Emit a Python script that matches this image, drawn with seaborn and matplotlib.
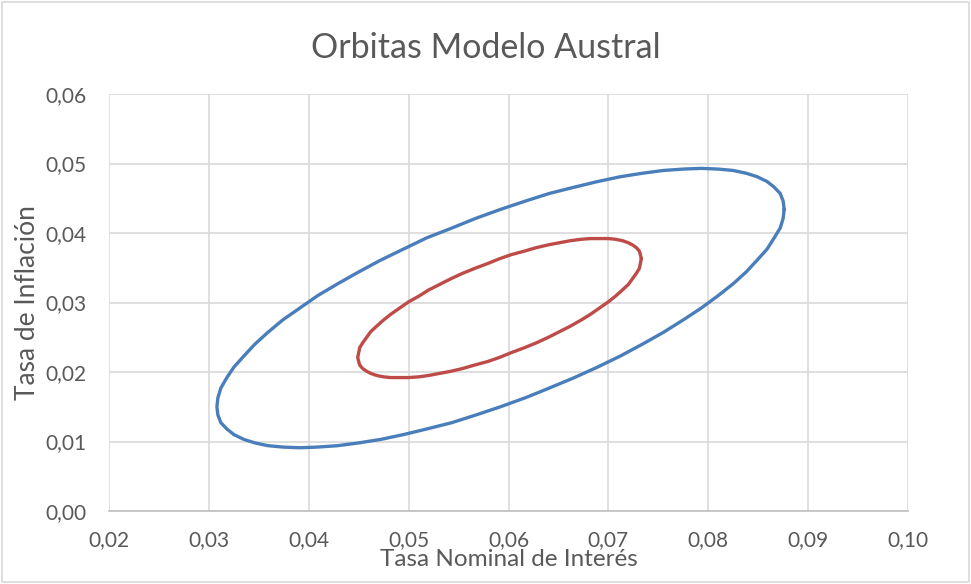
"""
Orbitas Modelo Austral: dos órbitas (tasa nominal vs inflación)
Salida: out.png
"""

import matplotlib.pyplot as plt
import pandas as pd
import seaborn as sns
from matplotlib.patches import Rectangle
from matplotlib.ticker import FuncFormatter

# órbita exterior (azul)
orbita_ext_x = [
    0.0876, 0.0875, 0.0872, 0.0866, 0.0859, 0.0849, 0.0838, 0.0825, 0.0810, 0.0793,
    0.0775, 0.0755, 0.0734, 0.0712, 0.0689, 0.0666, 0.0641, 0.0617, 0.0592,
    0.0567, 0.0543, 0.0518, 0.0495, 0.0472, 0.0450, 0.0429, 0.0409, 0.0391,
    0.0374, 0.0359, 0.0346, 0.0335, 0.0325, 0.0318, 0.0312, 0.0309, 0.0308,
    0.0309, 0.0312, 0.0318, 0.0325, 0.0335, 0.0346, 0.0359, 0.0374, 0.0391,
    0.0409, 0.0429, 0.0450, 0.0472, 0.0495, 0.0518, 0.0543, 0.0567, 0.0592,
    0.0617, 0.0641, 0.0666, 0.0689, 0.0712, 0.0734, 0.0755, 0.0775, 0.0793,
    0.0810, 0.0825, 0.0838, 0.0849, 0.0859, 0.0866, 0.0872, 0.0875, 0.0876,
]
orbita_ext_y = [
    0.0434, 0.0446, 0.0457, 0.0466, 0.0474, 0.0481, 0.0486, 0.0490, 0.0492, 0.0493,
    0.0492, 0.0490, 0.0486, 0.0481, 0.0474, 0.0466, 0.0457, 0.0446, 0.0434,
    0.0421, 0.0407, 0.0393, 0.0377, 0.0361, 0.0344, 0.0327, 0.0310, 0.0292,
    0.0275, 0.0257, 0.0240, 0.0223, 0.0207, 0.0192, 0.0177, 0.0163, 0.0150,
    0.0138, 0.0127, 0.0118, 0.0110, 0.0103, 0.0098, 0.0094, 0.0092, 0.0091,
    0.0092, 0.0094, 0.0098, 0.0103, 0.0110, 0.0118, 0.0127, 0.0138, 0.0150,
    0.0163, 0.0177, 0.0192, 0.0207, 0.0223, 0.0240, 0.0257, 0.0275, 0.0292,
    0.0310, 0.0327, 0.0344, 0.0361, 0.0377, 0.0393, 0.0407, 0.0421, 0.0434,
]

# órbita interior (roja)
orbita_int_x = [
    0.0733, 0.0732, 0.0731, 0.0728, 0.0724, 0.0720, 0.0714, 0.0707, 0.0700, 0.0691,
    0.0682, 0.0673, 0.0662, 0.0651, 0.0640, 0.0628, 0.0616, 0.0603, 0.0591,
    0.0579, 0.0566, 0.0554, 0.0542, 0.0531, 0.0520, 0.0510, 0.0500, 0.0491,
    0.0482, 0.0475, 0.0468, 0.0462, 0.0458, 0.0454, 0.0451, 0.0450, 0.0449,
    0.0450, 0.0451, 0.0454, 0.0458, 0.0462, 0.0468, 0.0475, 0.0482, 0.0491,
    0.0500, 0.0510, 0.0520, 0.0531, 0.0542, 0.0554, 0.0566, 0.0579, 0.0591,
    0.0603, 0.0616, 0.0628, 0.0640, 0.0651, 0.0662, 0.0673, 0.0682, 0.0691,
    0.0700, 0.0707, 0.0714, 0.0720, 0.0724, 0.0728, 0.0731, 0.0732, 0.0733,
]
orbita_int_y = [
    0.0363, 0.0369, 0.0374, 0.0379, 0.0383, 0.0386, 0.0389, 0.0391, 0.0392, 0.0392,
    0.0392, 0.0391, 0.0389, 0.0386, 0.0383, 0.0379, 0.0374, 0.0369, 0.0363,
    0.0356, 0.0349, 0.0342, 0.0334, 0.0326, 0.0318, 0.0309, 0.0301, 0.0292,
    0.0283, 0.0275, 0.0266, 0.0258, 0.0250, 0.0242, 0.0235, 0.0228, 0.0221,
    0.0215, 0.0210, 0.0205, 0.0201, 0.0198, 0.0195, 0.0193, 0.0192, 0.0192,
    0.0192, 0.0193, 0.0195, 0.0198, 0.0201, 0.0205, 0.0210, 0.0215, 0.0221,
    0.0228, 0.0235, 0.0242, 0.0250, 0.0258, 0.0266, 0.0275, 0.0283, 0.0292,
    0.0301, 0.0309, 0.0318, 0.0326, 0.0334, 0.0342, 0.0349, 0.0356, 0.0363,
]

x_ticks = [0.02, 0.03, 0.04, 0.05, 0.06, 0.07, 0.08, 0.09, 0.10]
y_ticks = [0.00, 0.01, 0.02, 0.03, 0.04, 0.05, 0.06]

TEXT = "#595959"
GRID = "#d9d9d9"
COLORES = {"ext": "#4a7ebb", "int": "#be4b48"}

sns.set_style("white")
plt.rcParams["font.family"] = ["Lato", "DejaVu Sans"]

df = pd.concat([
    pd.DataFrame({"x": orbita_ext_x, "y": orbita_ext_y, "serie": "ext"}),
    pd.DataFrame({"x": orbita_int_x, "y": orbita_int_y, "serie": "int"}),
], ignore_index=True)

fig = plt.figure(figsize=(9.71, 5.84), dpi=100)
ax = fig.add_axes([0.1123, 0.125, 0.8228, 0.714])

# cada órbita como trazo cerrado, en el orden de los puntos
for serie, color in COLORES.items():
    sub = df[df["serie"] == serie]
    sns.lineplot(data=sub, x="x", y="y", sort=False, estimator=None,
                 color=color, linewidth=2.4, solid_joinstyle="round", ax=ax)

ax.set_xlim(0.02, 0.10)
ax.set_ylim(0.0, 0.06)
ax.set_xticks(x_ticks)
ax.set_yticks(y_ticks)
fmt = FuncFormatter(lambda v, _: f"{v:.2f}".replace(".", ","))
ax.xaxis.set_major_formatter(fmt)
ax.yaxis.set_major_formatter(fmt)
ax.tick_params(length=0, labelsize=15, colors=TEXT)
ax.tick_params(axis="x", pad=14)
ax.tick_params(axis="y", pad=16)
ax.grid(True, color=GRID, linewidth=1.2)
ax.set_axisbelow(True)
for s in ["top", "right", "left"]:
    ax.spines[s].set_visible(False)
ax.spines["bottom"].set_color("#bfbfbf")
ax.spines["bottom"].set_linewidth(1.2)

ax.set_xlabel("Tasa Nominal de Interés", fontsize=17.5, color=TEXT, labelpad=-1)
ax.set_ylabel("Tasa de Inflación", fontsize=19, color=TEXT, labelpad=4)
fig.text(0.5, 0.918, "Orbitas Modelo Austral", ha="center", va="center",
         fontsize=24.5, color=TEXT)

fig.add_artist(Rectangle((0.002, 0.003), 0.996, 0.994, transform=fig.transFigure,
                         fill=False, edgecolor=GRID, linewidth=1.2))

fig.savefig("out.png", dpi=100)
plt.close(fig)
